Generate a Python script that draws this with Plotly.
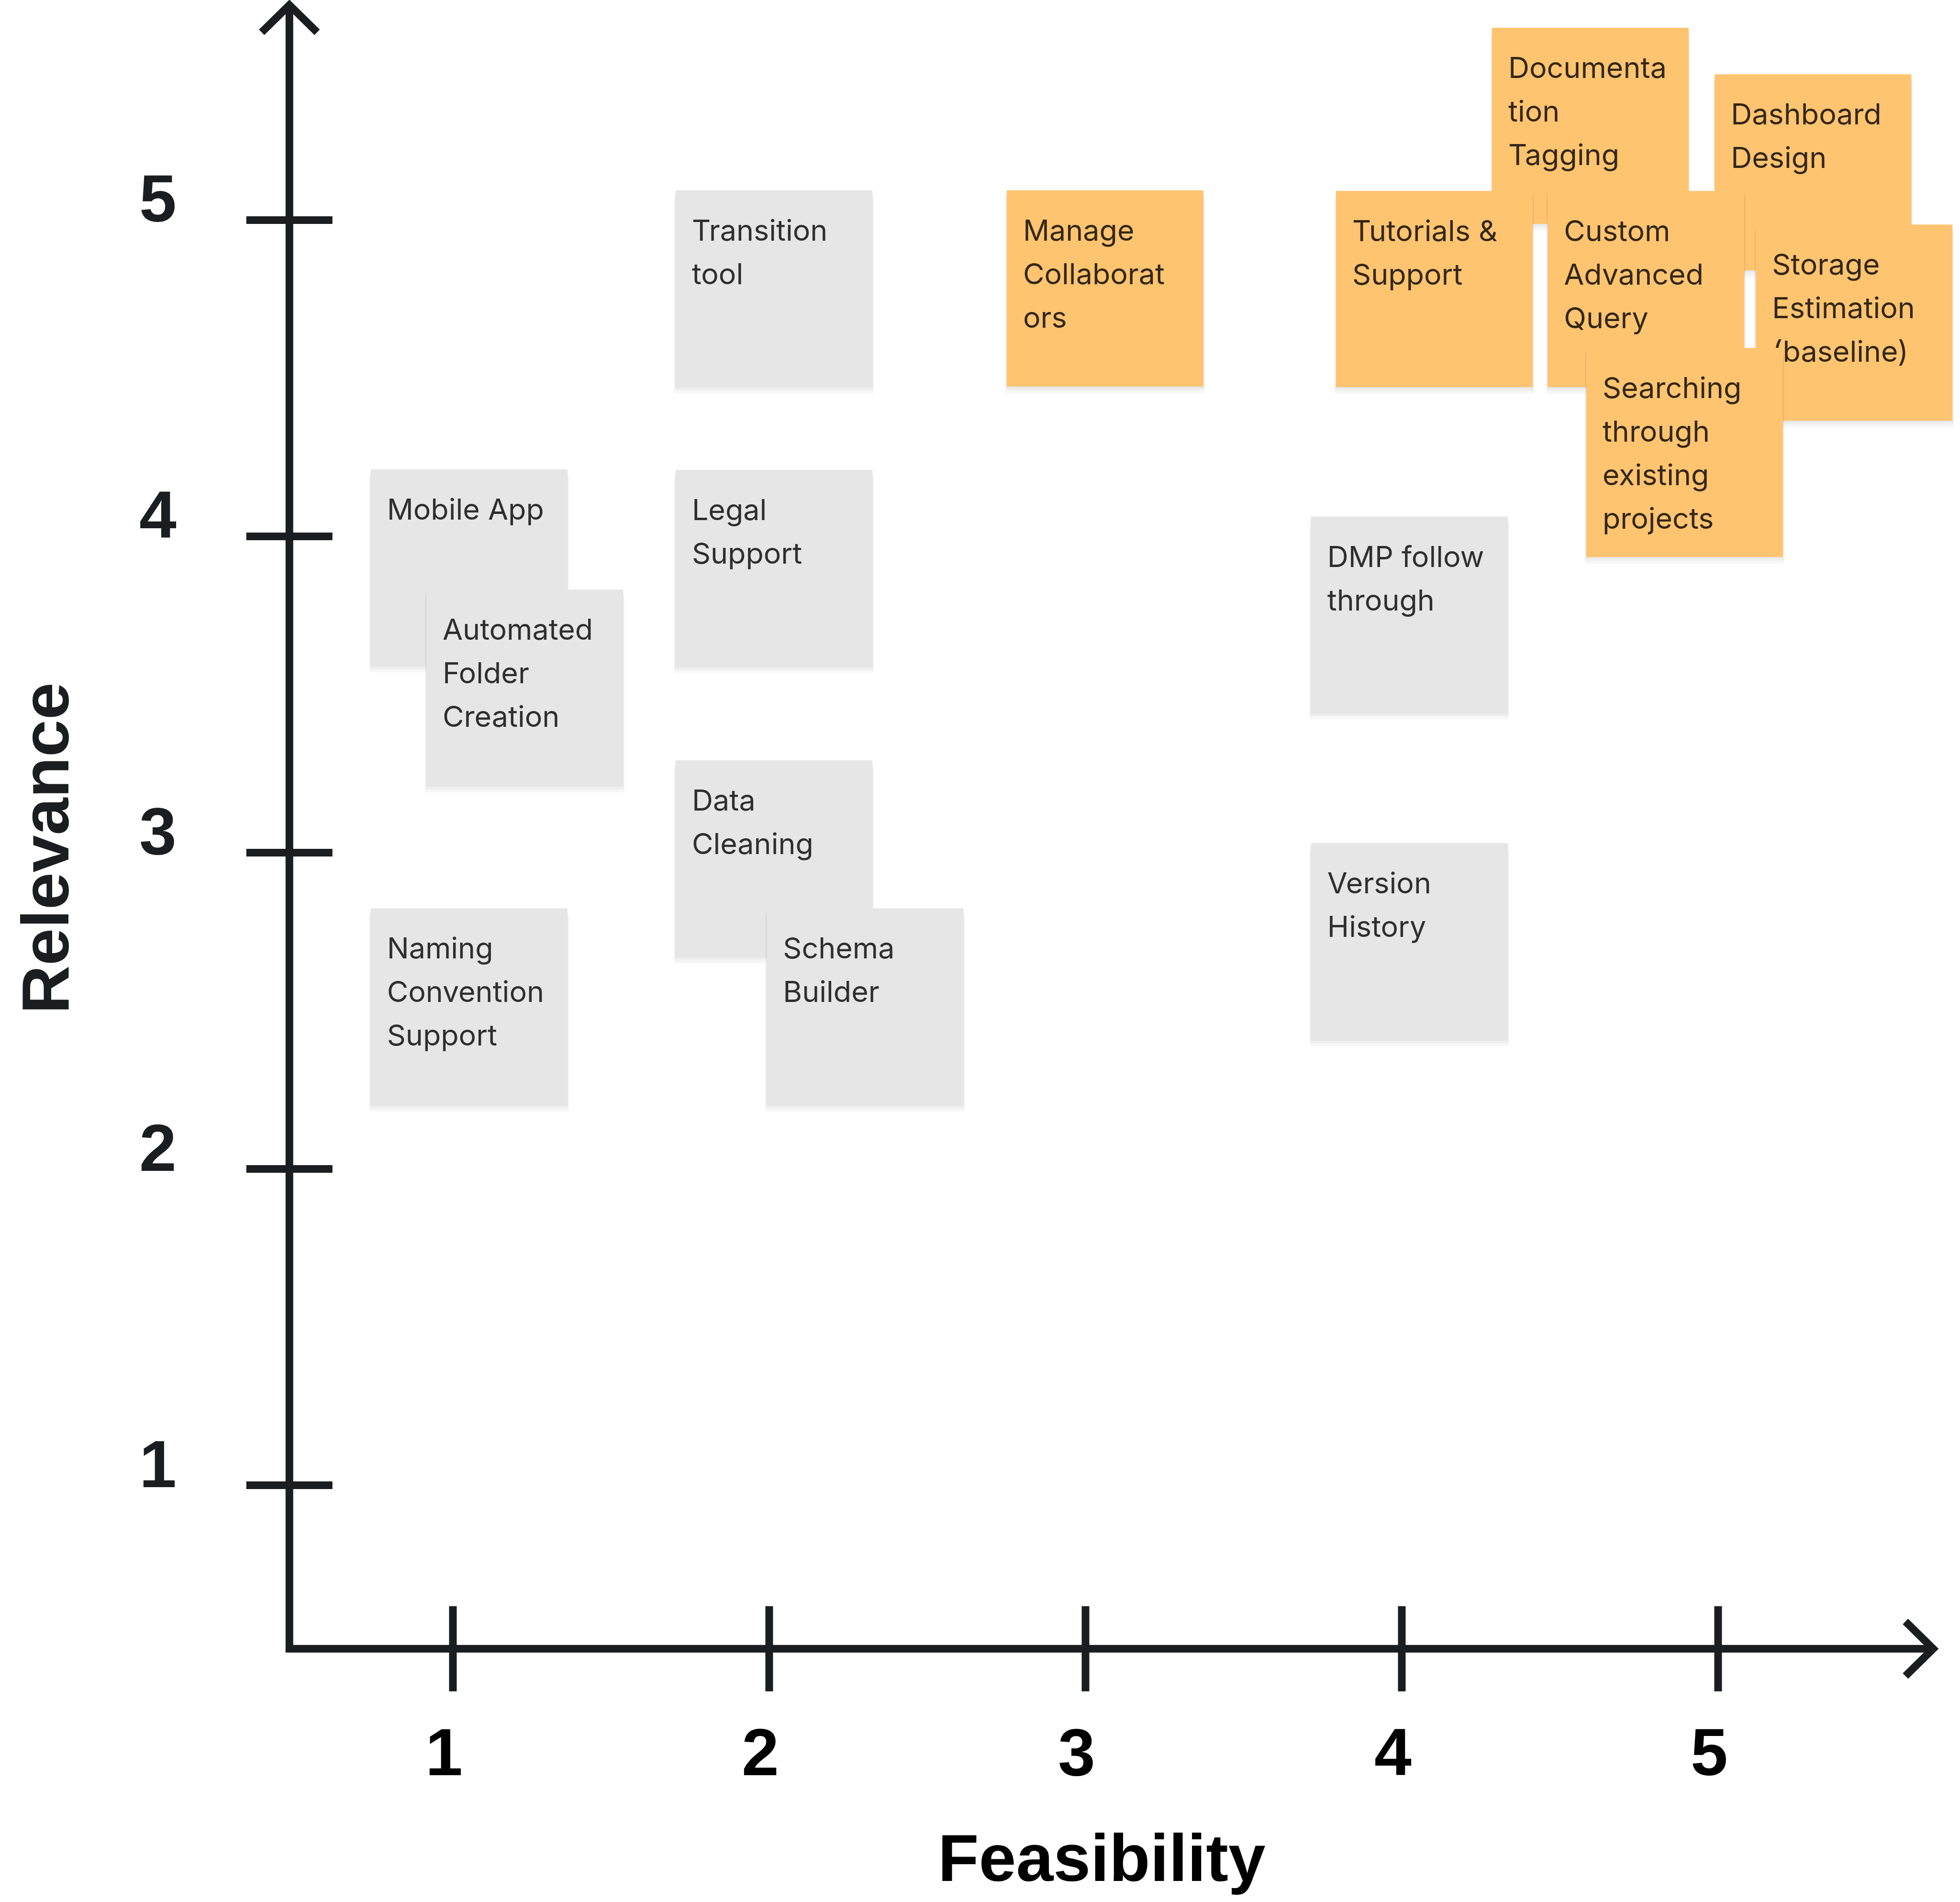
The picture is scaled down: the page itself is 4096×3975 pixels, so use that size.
from typing import List

import plotly.graph_objects as go

FIG_WIDTH = 4096
FIG_HEIGHT = 3975

# axis scale (both axes run 1..5)
TICKS = [1, 2, 3, 4, 5]
X_AXIS_TITLE = "Feasibility"
Y_AXIS_TITLE = "Relevance"

# sticky notes, listed bottom-most first (later ones overlap earlier ones)
NOTE_LABELS = [
    "Transition\ntool",
    "Mobile App",
    "Automated\nFolder\nCreation",
    "Legal\nSupport",
    "Data\nCleaning",
    "Schema\nBuilder",
    "Naming\nConvention\nSupport",
    "DMP follow\nthrough",
    "Version\nHistory",
    "Manage\nCollaborat\nors",
    "Documenta\ntion\nTagging",
    "Dashboard\nDesign",
    "Tutorials &\nSupport",
    "Custom\nAdvanced\nQuery",
    "Storage\nEstimation\n(baseline)",
    "Searching\nthrough\nexisting\nprojects",
]
FEASIBILITY = [2.015, 1.051, 1.227, 2.015, 2.015, 2.303, 1.051, 4.024, 4.024,
               3.062, 4.596, 5.300, 4.103, 4.772, 5.430, 4.894]
RELEVANCE = [4.784, 3.902, 3.522, 3.900, 2.982, 2.514, 2.514, 3.753, 2.720,
             4.784, 5.298, 5.151, 4.782, 4.782, 4.676, 4.286]
NOTE_KIND = ["idea"] * 9 + ["priority"] * 7

# styling
X_RANGE = [-0.4319, 5.7648]
Y_RANGE = [-0.3177, 5.6959]
PX_X = FIG_WIDTH / (X_RANGE[1] - X_RANGE[0])
PX_Y = FIG_HEIGHT / (Y_RANGE[1] - Y_RANGE[0])

AXIS_ORIGIN = 0.483
AXIS_END = 5.68
LINE_COLOR = "#1b1e20"
LINE_WIDTH = 16
LABEL_FONT = "Liberation Sans, Arial, sans-serif"
NOTE_FONT = "Inter, Noto Sans, sans-serif"
NOTE_FONT_SIZE = 61
NOTE_COLORS = {"idea": "#e6e6e6", "priority": "#ffc470"}
NOTE_TEXT_COLOR = "rgba(0,0,0,0.8)"

NOTE_W = 411
NOTE_H = 410
NOTE_PAD_LEFT = 34
NOTE_FIRST_LINE = 90
NOTE_LINE_H = 91
NOTE_BOTTOM_PAD = 74


def _dx(px: float) -> float:
    return px / PX_X


def _dy(px: float) -> float:
    return px / PX_Y


def _add_line(fig: go.Figure, x_list: List, y_list: List) -> None:
    fig.add_trace(go.Scatter(
        x=x_list, y=y_list, mode="lines", hoverinfo="skip",
        line=dict(color=LINE_COLOR, width=LINE_WIDTH),
    ))


def _add_axes(fig: go.Figure) -> None:
    # main L shaped axes
    _add_line(fig, [AXIS_ORIGIN, AXIS_ORIGIN, AXIS_END], [AXIS_END, AXIS_ORIGIN, AXIS_ORIGIN])

    # arrow heads
    ax, ay = _dx(58), _dy(57)
    _add_line(fig, [AXIS_ORIGIN - ax, AXIS_ORIGIN, AXIS_ORIGIN + ax], [AXIS_END - ay, AXIS_END, AXIS_END - ay])
    _add_line(fig, [AXIS_END - ax, AXIS_END, AXIS_END - ax], [AXIS_ORIGIN + ay, AXIS_ORIGIN, AXIS_ORIGIN - ay])

    # tick marks crossing the axes
    x_list, y_list = [], []
    for t in TICKS:
        x_list += [t, t, None]
        y_list += [AXIS_ORIGIN - _dy(89), AXIS_ORIGIN + _dy(89), None]
    _add_line(fig, x_list, y_list)

    x_list, y_list = [], []
    for t in TICKS:
        x_list += [AXIS_ORIGIN - _dx(90), AXIS_ORIGIN + _dx(90), None]
        y_list += [t, t, None]
    _add_line(fig, x_list, y_list)

    for t in TICKS:
        fig.add_annotation(
            x=t, y=AXIS_ORIGIN, xshift=-18, yshift=-216, text=str(t), showarrow=False,
            font=dict(family=LABEL_FONT, size=140, color="#000000", weight="bold"),
        )
        fig.add_annotation(
            x=AXIS_ORIGIN, y=t, xshift=-275, yshift=45, text=str(t), showarrow=False,
            font=dict(family=LABEL_FONT, size=140, color=LINE_COLOR, weight="bold"),
        )

    fig.add_annotation(
        x=3.051, y=-0.177, text=X_AXIS_TITLE, showarrow=False,
        font=dict(family=LABEL_FONT, size=140, color="#000000", weight="bold"),
    )
    fig.add_annotation(
        x=-0.288, y=3.014, text=Y_AXIS_TITLE, showarrow=False, textangle=-90,
        font=dict(family=LABEL_FONT, size=140, color=LINE_COLOR, weight="bold"),
    )


def _add_rect(fig: go.Figure, left: float, right: float, top: float, bottom: float, color: str) -> None:
    fig.add_trace(go.Scatter(
        x=[left, right, right, left, left], y=[top, top, bottom, bottom, top],
        mode="lines", fill="toself", fillcolor=color, hoverinfo="skip",
        line=dict(width=0, color=color),
    ))


def _add_note(fig: go.Figure, label: str, x: float, y: float, kind: str) -> None:
    lines = label.split("\n")
    height = max(NOTE_H, NOTE_FIRST_LINE + (len(lines) - 1) * NOTE_LINE_H + NOTE_BOTTOM_PAD)

    left = x - _dx(NOTE_W / 2)
    right = x + _dx(NOTE_W / 2)
    top = y + _dy(NOTE_H / 2)
    bottom = top - _dy(height)

    # soft drop shadow
    for offset, spread in [(3, 1), (8, 2), (14, 3)]:
        _add_rect(fig, left - _dx(spread), right + _dx(spread), top - _dy(offset),
                  bottom - _dy(offset), "rgba(0,0,0,0.03)")

    _add_rect(fig, left, right, top, bottom, NOTE_COLORS[kind])

    fig.add_trace(go.Scatter(
        x=[left + _dx(NOTE_PAD_LEFT)] * len(lines),
        y=[top - _dy(NOTE_FIRST_LINE + i * NOTE_LINE_H) for i in range(len(lines))],
        mode="text", text=lines, textposition="middle right", hoverinfo="skip",
        textfont=dict(family=NOTE_FONT, size=NOTE_FONT_SIZE, color=NOTE_TEXT_COLOR),
    ))


def _init_plot() -> go.Figure:
    fig = go.Figure()
    fig.update_layout(
        width=FIG_WIDTH,
        height=FIG_HEIGHT,
        margin=dict(l=0, r=0, t=0, b=0),
        showlegend=False,
        plot_bgcolor="white",
        paper_bgcolor="white",
        xaxis=dict(range=X_RANGE, visible=False, fixedrange=True),
        yaxis=dict(range=Y_RANGE, visible=False, fixedrange=True),
    )
    return fig


fig = _init_plot()
_add_axes(fig)
for label, x, y, kind in zip(NOTE_LABELS, FEASIBILITY, RELEVANCE, NOTE_KIND):
    _add_note(fig, label, x, y, kind)

fig.write_html("out.html", config={"displayModeBar": False},
               post_script="document.body.style.margin = '0';")
